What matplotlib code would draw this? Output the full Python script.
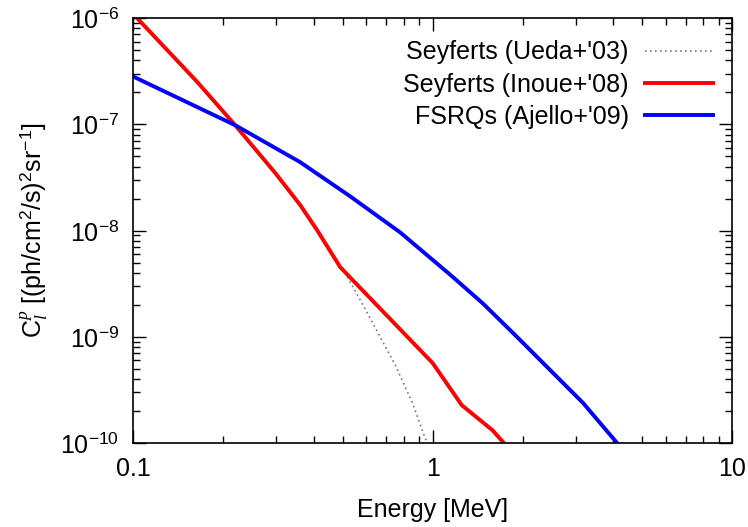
import numpy as np
import matplotlib
matplotlib.use("Agg")
import matplotlib.pyplot as plt
from matplotlib.ticker import LogLocator, NullFormatter, FixedLocator, FixedFormatter

plt.rcParams['font.family'] = ['Liberation Sans', 'DejaVu Sans']
plt.rcParams['mathtext.fontset'] = 'custom'
plt.rcParams['mathtext.rm'] = 'Liberation Sans'
plt.rcParams['mathtext.it'] = 'Liberation Serif:italic'
plt.rcParams['axes.unicode_minus'] = False

# energy [MeV] and C_l^p values
ueda_e = [0.1, 0.1636, 0.219, 0.298, 0.361, 0.411, 0.491, 0.51, 0.573, 0.658, 0.75, 0.854, 0.944, 0.967]
ueda_c = [1.09e-6, 2.5e-7, 9.8e-8, 3.48e-8, 1.74e-8, 1.01e-8, 4.53e-9, 3.98e-9, 2.22e-9,
          1.08e-9, 5.42e-10, 2.43e-10, 1.11e-10, 1.0e-10]

inoue_e = [0.1, 0.1636, 0.219, 0.298, 0.361, 0.411, 0.491, 1.0, 1.25, 1.58, 1.73]
inoue_c = [1.09e-6, 2.5e-7, 9.8e-8, 3.48e-8, 1.74e-8, 1.01e-8, 4.53e-9, 5.66e-10,
           2.28e-10, 1.33e-10, 1.0e-10]

fsrq_e = [0.1, 0.219, 0.361, 0.53, 0.779, 1.143, 1.474, 1.914, 2.468, 3.18, 4.13]
fsrq_c = [2.81e-7, 9.8e-8, 4.4e-8, 2.1e-8, 9.6e-9, 3.85e-9, 2.05e-9, 9.95e-10, 4.86e-10,
          2.38e-10, 1.0e-10]

fig = plt.figure(figsize=(7.48, 5.27), dpi=100)
ax = fig.add_axes([0.178, 0.159, 0.801, 0.807])

ax.plot(ueda_e, ueda_c, color='#777777', lw=1.2, ls=(0, (1, 2)), label="Seyferts (Ueda+'03)")
ax.plot(inoue_e, inoue_c, color='#ff0000', lw=2.8, label="Seyferts (Inoue+'08)")
ax.plot(fsrq_e, fsrq_c, color='#0000ff', lw=2.8, label="FSRQs (Ajello+'09)")

ax.set_xscale('log')
ax.set_yscale('log')
ax.set_xlim(0.1, 10)
ax.set_ylim(1e-10, 1e-6)

ax.xaxis.set_major_locator(FixedLocator([0.1, 1, 10]))
ax.xaxis.set_major_formatter(FixedFormatter(['0.1', '1', '10']))
ax.xaxis.set_minor_locator(LogLocator(base=10, subs=np.arange(2, 10), numticks=20))
ax.xaxis.set_minor_formatter(NullFormatter())
yt = [1e-10, 1e-9, 1e-8, 1e-7, 1e-6]
ax.yaxis.set_major_locator(FixedLocator(yt))
ax.yaxis.set_major_formatter(FixedFormatter([r'10$^{-10}$', r'10$^{-9}$', r'10$^{-8}$',
                                             r'10$^{-7}$', r'10$^{-6}$']))
ax.yaxis.set_minor_locator(LogLocator(base=10, subs=np.arange(2, 10), numticks=20))
ax.yaxis.set_minor_formatter(NullFormatter())

ax.tick_params(which='both', direction='in', top=True, right=True, labelsize=18, width=1)
ax.tick_params(which='major', length=9.5, pad=10)
ax.tick_params(which='minor', length=5)
for s in ax.spines.values():
    s.set_linewidth(1.2)

ax.set_xlabel('Energy [MeV]', fontsize=18, labelpad=12)
ax.set_ylabel(r'C$_{l}^{p}$ [(ph/cm$^2$/s)$^2$sr$^{-1}$]', fontsize=18, labelpad=8)

ax.legend(loc='upper right', markerfirst=False, frameon=False, fontsize=18,
          handlelength=2.72, handletextpad=0.64, labelspacing=0.33,
          bbox_to_anchor=(1.005, 1.0))

fig.savefig('out.png', dpi=100)
